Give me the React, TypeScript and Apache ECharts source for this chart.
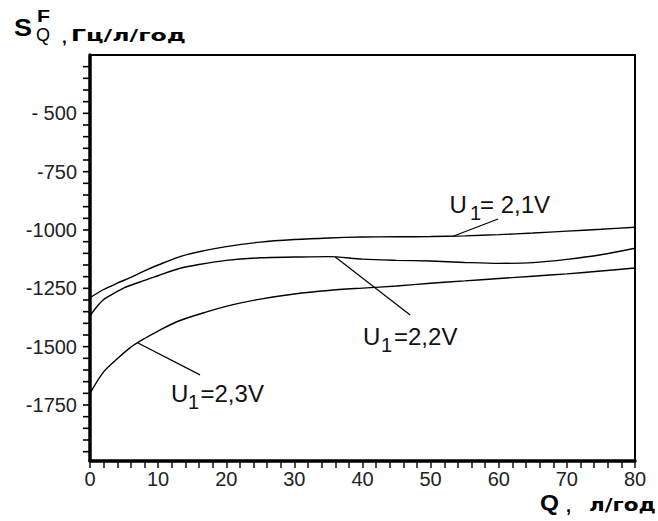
import React, { useEffect, useRef } from "react";
import * as echarts from "echarts";

// Q, л/год
const qU21 = [0, 2, 4, 6, 8, 10, 13, 16, 20, 25, 30, 35, 40, 45, 50, 55, 60, 65, 70, 75, 80];
const sU21 = [-1290, -1255, -1228, -1203, -1175, -1150, -1116, -1093, -1071, -1052, -1041, -1034, -1030, -1029, -1028, -1025, -1020, -1013, -1005, -997, -988];

const qU22 = [0, 1, 2, 3, 5, 8, 10, 13, 16, 20, 25, 30, 35, 40, 45, 50, 55, 60, 65, 70, 75, 80];
const sU22 = [-1368, -1329, -1298, -1280, -1248, -1216, -1196, -1166, -1148, -1130, -1119, -1116, -1114, -1125, -1130, -1133, -1139, -1143, -1140, -1126, -1106, -1078];

const qU23 = [0, 2, 4, 6, 8, 10, 13, 17, 21, 25, 30, 35, 40, 45, 50, 55, 60, 65, 70, 75, 80];
const sU23 = [-1700, -1608, -1552, -1502, -1465, -1433, -1390, -1352, -1320, -1296, -1274, -1259, -1249, -1240, -1228, -1218, -1208, -1198, -1188, -1176, -1163];

// leader lines: [Q start, S start, Q end, S end]
const leader21 = [53.3, -1027, 59.9, -953];
const leader22 = [36, -1116, 47, -1364];
const leader23 = [7.05, -1484, 16.15, -1621];

const yLabelValues = [-500, -750, -1000, -1250, -1500, -1750];
const yTickValues = [
  -300, -350, -400, -450, -500, -550, -600, -650, -700, -750, -800, -850, -900, -950, -1000,
  -1050, -1100, -1150, -1200, -1250, -1300, -1350, -1400, -1450, -1500, -1550, -1600, -1650,
  -1700, -1750, -1800, -1850, -1900, -1950,
];

const pairs = (xs: number[], ys: number[]) => xs.map((x, i) => [x, ys[i]]);

function measure(text: string, font: string): number {
  const c = document.createElement("canvas");
  const ctx = c.getContext("2d");
  if (!ctx) return 1;
  ctx.font = font;
  return ctx.measureText(text).width || 1;
}

function txt(
  text: string,
  x: number,
  y: number,
  size: number,
  weight: string,
  family: string,
  targetW?: number,
  fill = "#000"
) {
  const sx = targetW ? targetW / measure(text, `${weight} ${size}px ${family}`) : 1;
  return {
    type: "text",
    x,
    y,
    scaleX: sx,
    silent: true,
    style: {
      text,
      fontSize: size,
      fontWeight: weight,
      fontFamily: family,
      fill,
      align: "left",
      verticalAlign: "middle",
      textAlign: "left",
      textVerticalAlign: "middle",
    },
  };
}

const LIB = '"Liberation Sans", Arial, sans-serif';
const DJV = '"DejaVu Sans", sans-serif';

const ann = (x: number, y: number, rest: string, dx1: number, dx2: number) => [
  txt("U", x, y, 24, "normal", LIB, undefined, "#111"),
  txt("1", x + dx1, y + 8.5, 20, "normal", LIB, undefined, "#111"),
  txt(rest, x + dx2, y, 24, "normal", LIB, undefined, "#111"),
];

export default function App() {
  const ref = useRef<HTMLDivElement>(null);
  useEffect(() => {
    if (!ref.current) return;
    const chart = echarts.init(ref.current, undefined, { renderer: "svg" });
    const curve = (name: string, d: number[][]) => ({
      name,
      type: "line",
      data: d,
      showSymbol: false,
      symbol: "none",
      smooth: 0.3,
      lineStyle: { color: "#000", width: 1.4 },
      silent: true,
    });
    const lead = (l: number[]) => ({
      type: "line",
      data: [
        [l[0], l[1]],
        [l[2], l[3]],
      ],
      showSymbol: false,
      symbol: "none",
      lineStyle: { color: "#000", width: 1.2 },
      silent: true,
    });
    const tickFont = { fontSize: 20, fontFamily: LIB, color: "#222" };
    const textGraphics = [
      txt("S", 14, 28, 23, "bold", LIB, 18),
      txt("F", 37, 16, 17, "bold", LIB, 13),
      txt("Q", 36, 34.5, 18, "normal", LIB, 14),
      txt(",", 62, 37, 17, "bold", LIB),
      txt("Гц/л/год", 71, 35.5, 16, "bold", DJV, 115),
      txt("Q", 540, 502, 22, "bold", LIB, 19),
      txt(",", 566, 506, 18, "bold", LIB),
      txt("л/год", 589, 505, 17, "bold", DJV, 67),
      ...ann(449.5, 204, "= 2,1V", 20.5, 30.5),
      ...ann(363, 336, "=2,2V", 18, 31),
      ...ann(171, 393.5, "=2,3V", 17, 29.5),
    ];
    chart.setOption({
      animation: false,
      backgroundColor: "#fff",
      grid: { left: 90, right: 23, top: 55, bottom: 60, show: true, borderColor: "#000", borderWidth: 2, backgroundColor: "transparent" },
      xAxis: {
        type: "value",
        min: 0,
        max: 80,
        interval: 10,
        axisLine: { show: true, onZero: false, lineStyle: { color: "#000", width: 3.5 } },
        axisTick: { show: true, length: 7, lineStyle: { color: "#111", width: 1.5 } },
        minorTick: { show: true, splitNumber: 5, length: 7, lineStyle: { color: "#111", width: 1.5 } },
        splitLine: { show: false },
        minorSplitLine: { show: false },
        axisLabel: { ...tickFont, margin: 8 },
      },
      yAxis: {
        type: "value",
        min: -1990,
        max: -250,
        axisLine: { show: true, onZero: false, lineStyle: { color: "#000", width: 3.5 } },
        axisTick: { show: false },
        splitLine: { show: false },
        axisLabel: {
          ...tickFont,
          margin: 13,
          customValues: yLabelValues,
          formatter: (v: number) => (v === -500 ? "- 500" : String(v)),
        },
      },
      series: [
        curve("U1=2,1V", pairs(qU21, sU21)),
        curve("U1=2,2V", pairs(qU22, sU22)),
        curve("U1=2,3V", pairs(qU23, sU23)),
        lead(leader21),
        lead(leader22),
        lead(leader23),
      ],
      graphic: textGraphics,
    });
    // y-axis ticks positioned through the axis scale
    const tickLines = yTickValues.map((v) => {
      const p = chart.convertToPixel({ gridIndex: 0 }, [0, v]) as number[];
      return {
        type: "line",
        silent: true,
        z: 100,
        shape: { x1: p[0] - 7, y1: p[1], x2: p[0], y2: p[1] },
        style: { stroke: "#000", lineWidth: 1.6 },
      };
    });
    chart.setOption({ graphic: [...textGraphics, ...tickLines] }, { replaceMerge: ["graphic"] });
    return () => chart.dispose();
  }, []);
  return (
    <div
      ref={ref}
      style={{ position: "absolute", left: 0, top: 0, width: 658, height: 521, background: "#fff" }}
    />
  );
}
